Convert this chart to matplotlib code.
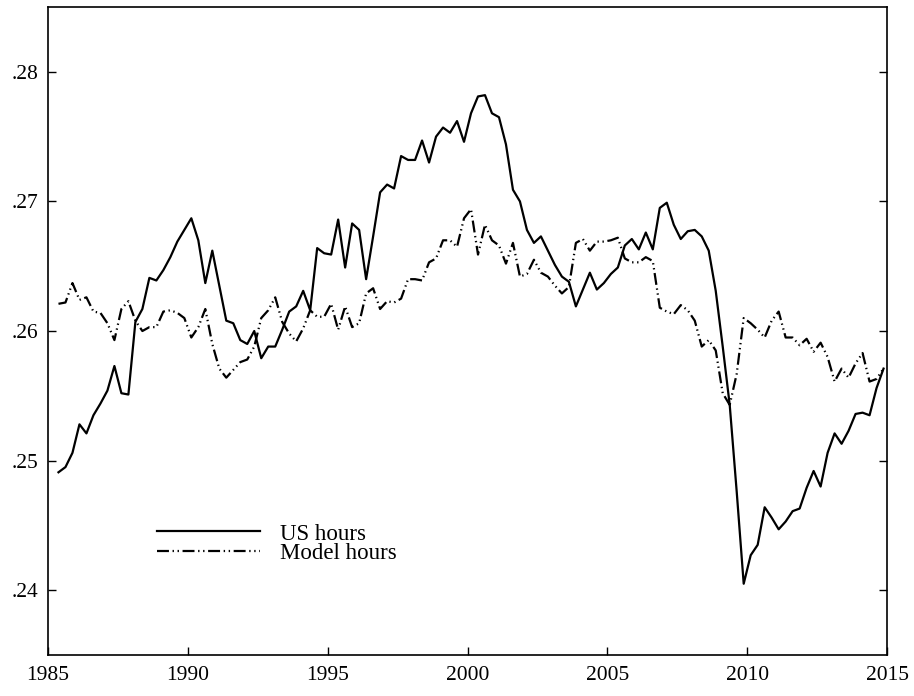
import numpy as np
import matplotlib
matplotlib.use("Agg")
import matplotlib.pyplot as plt
from matplotlib.ticker import FuncFormatter

# quarterly observations, 1985Q2 - 2014Q4 (plotted at mid-quarter)
first_year = 1985
first_quarter = 2
n_obs = 119

us_hours = [
    0.2491, 0.2495, 0.2506, 0.2528, 0.2521, 0.2535, 0.2544, 0.2554, 0.2573, 0.2552,
    0.2551, 0.2607, 0.2617, 0.2641, 0.2639, 0.2647, 0.2657, 0.2669, 0.2678, 0.2687,
    0.2670, 0.2637, 0.2662, 0.2635, 0.2608, 0.2606, 0.2593, 0.2590, 0.2600, 0.2579,
    0.2588, 0.2588, 0.2601, 0.2615, 0.2619, 0.2631, 0.2616, 0.2664, 0.2660, 0.2659,
    0.2686, 0.2649, 0.2683, 0.2678, 0.2640, 0.2673, 0.2707, 0.2713, 0.2710, 0.2735,
    0.2732, 0.2732, 0.2747, 0.2730, 0.2750, 0.2757, 0.2753, 0.2762, 0.2746, 0.2768,
    0.2781, 0.2782, 0.2768, 0.2765, 0.2744, 0.2709, 0.2700, 0.2678, 0.2668, 0.2673,
    0.2662, 0.2651, 0.2642, 0.2638, 0.2619, 0.2632, 0.2645, 0.2632, 0.2637, 0.2644,
    0.2649, 0.2666, 0.2671, 0.2663, 0.2676, 0.2663, 0.2695, 0.2699, 0.2682, 0.2671,
    0.2677, 0.2678, 0.2673, 0.2662, 0.2631, 0.2588, 0.2543, 0.2476, 0.2405, 0.2427,
    0.2435, 0.2464, 0.2456, 0.2447, 0.2453, 0.2461, 0.2463, 0.2479, 0.2492, 0.2480,
    0.2506, 0.2521, 0.2513, 0.2523, 0.2536, 0.2537, 0.2535, 0.2556, 0.2571,
]

model_hours = [
    0.2621, 0.2622, 0.2637, 0.2624, 0.2626, 0.2615, 0.2614, 0.2606, 0.2593, 0.2617,
    0.2623, 0.2608, 0.2600, 0.2603, 0.2603, 0.2615, 0.2616, 0.2614, 0.2610, 0.2595,
    0.2603, 0.2617, 0.2590, 0.2571, 0.2564, 0.2570, 0.2576, 0.2578, 0.2588, 0.2610,
    0.2616, 0.2626, 0.2607, 0.2598, 0.2592, 0.2602, 0.2616, 0.2611, 0.2611, 0.2621,
    0.2601, 0.2619, 0.2603, 0.2606, 0.2629, 0.2633, 0.2617, 0.2623, 0.2622, 0.2625,
    0.2640, 0.2640, 0.2639, 0.2653, 0.2656, 0.2670, 0.2670, 0.2665, 0.2687, 0.2694,
    0.2659, 0.2682, 0.2670, 0.2666, 0.2652, 0.2668, 0.2642, 0.2644, 0.2655, 0.2645,
    0.2642, 0.2635, 0.2629, 0.2634, 0.2668, 0.2671, 0.2662, 0.2669, 0.2669, 0.2670,
    0.2672, 0.2656, 0.2653, 0.2653, 0.2657, 0.2654, 0.2618, 0.2615, 0.2613, 0.2620,
    0.2616, 0.2608, 0.2588, 0.2593, 0.2585, 0.2552, 0.2543, 0.2567, 0.2610, 0.2606,
    0.2601, 0.2595, 0.2608, 0.2615, 0.2595, 0.2595, 0.2589, 0.2594, 0.2584, 0.2591,
    0.2580, 0.2561, 0.2571, 0.2564, 0.2575, 0.2583, 0.2561, 0.2563, 0.2571,
]

x_ticks = [1985, 1990, 1995, 2000, 2005, 2010, 2015]
y_ticks = [0.24, 0.25, 0.26, 0.27, 0.28]


def main():
    plt.rcParams["font.family"] = ["Liberation Serif", "DejaVu Serif"]
    plt.rcParams["lines.scale_dashes"] = False

    t = first_year + (first_quarter - 0.5) / 4 + 0.25 * np.arange(n_obs)

    fig = plt.figure(figsize=(9.14, 6.96), dpi=100)
    ax = fig.add_axes([0.0525, 0.0589, 0.918, 0.931])

    ax.plot(t, us_hours, color="black", linewidth=1.6, label="US hours")
    ax.plot(t, model_hours, color="black", linewidth=1.6,
            linestyle=(0, (8.6, 2.6, 1.0, 2.6, 1.0, 2.6)), label="Model hours")

    ax.set_xlim(1985, 2015)
    ax.set_ylim(0.235, 0.285)
    ax.set_xticks(x_ticks)
    ax.set_yticks(y_ticks)
    ax.yaxis.set_major_formatter(FuncFormatter(lambda v, p: ("%.2f" % v).lstrip("0")))

    ax.tick_params(axis="both", direction="in", length=6, width=1.0,
                   labelsize=15.5, colors="black")
    ax.tick_params(axis="x", pad=8)
    ax.tick_params(axis="y", pad=7, right=True)
    for s in ax.spines.values():
        s.set_linewidth(1.2)

    ax.legend(loc="upper left", bbox_to_anchor=(0.13, 0.203), frameon=False,
              fontsize=16.5, handlelength=4.5, handletextpad=0.85,
              labelspacing=-0.07, borderpad=0, borderaxespad=0)

    fig.savefig("out.png", dpi=100)
    plt.close(fig)


if __name__ == "__main__":
    main()
